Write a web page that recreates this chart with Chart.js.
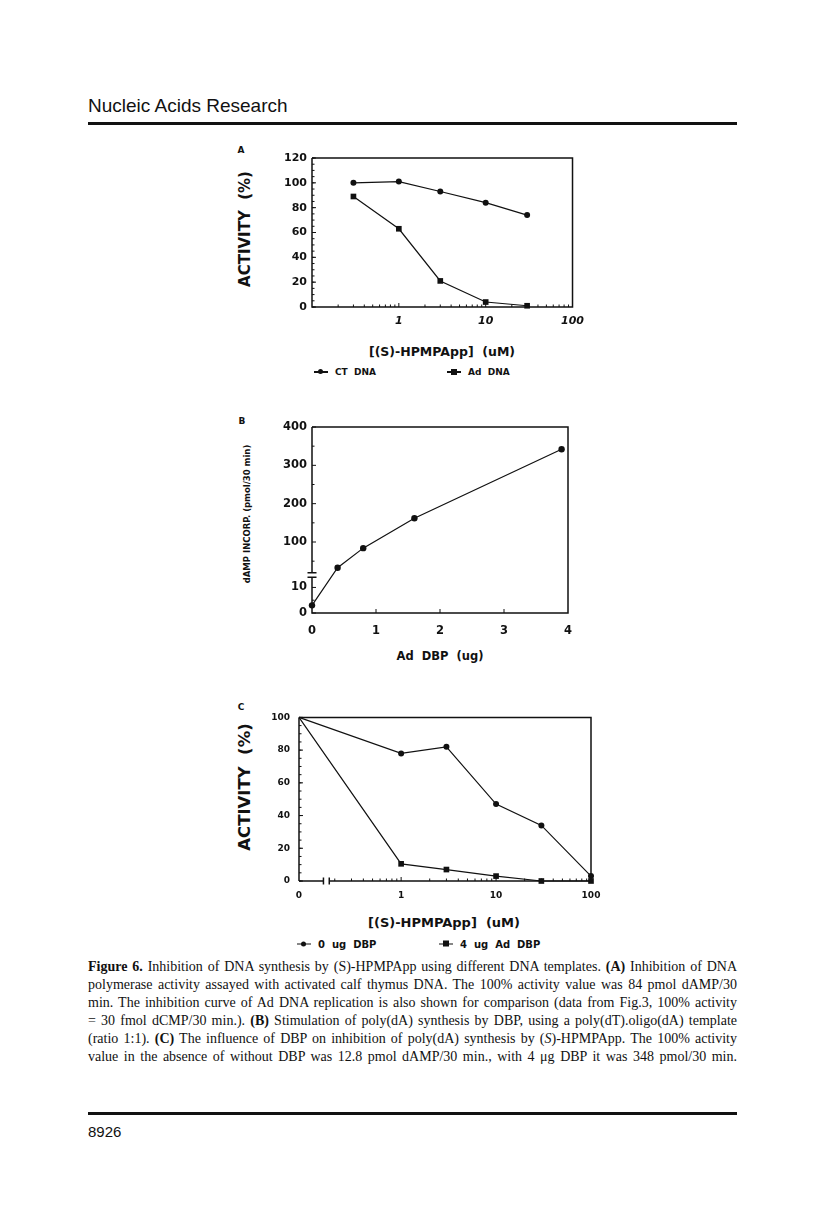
<!DOCTYPE html>
<html>
<head>
<meta charset="utf-8">
<script src="https://cdn.jsdelivr.net/npm/chart.js@4.4.1/dist/chart.umd.min.js"></script>
<style>
  html, body { margin: 0; padding: 0; background: #fff; }
  body { width: 816px; height: 1217px; position: relative; overflow: hidden; color: #111; }
  canvas { position: absolute; }
  .abs { position: absolute; white-space: pre; line-height: 1; }
  .head { left: 88px; top: 95px; font: 19px 'Liberation Sans', Arial, sans-serif; }
  .folio { left: 88px; top: 1123px; font: 15px 'Liberation Sans', Arial, sans-serif; }
  .rule { position: absolute; left: 88px; width: 649px; height: 3px; background: #111; }
  .lbl { font-family: 'DejaVu Sans', sans-serif; font-weight: bold; transform: translate(-50%, -50%); }
  .rot { transform: translate(-50%, -50%) rotate(-90deg); }
  .leg { position: absolute; display: flex; align-items: center; white-space: pre;
         font-family: 'DejaVu Sans', sans-serif; font-weight: bold; transform: translateY(-50%); }
  .leg .ln { position: relative; width: 14px; height: 1.3px; background: #111; margin-right: 7px; }
  .leg .dot { position: absolute; left: 4px; top: -2px; width: 5px; height: 5px; border-radius: 50%; background: #111; }
  .leg .sq { position: absolute; left: 4px; top: -2.5px; width: 6px; height: 6px; background: #111; }
  .cap { position: absolute; left: 88px; top: 958px; width: 649px;
         font: 14px 'Liberation Serif', 'Times New Roman', serif; line-height: 18px; }
  .cap div { white-space: nowrap; text-align: justify; text-align-last: justify; }
</style>
</head>
<body>
<div class="abs head">Nucleic Acids Research</div>
<div class="rule" style="top:122px"></div>

<!-- panel A -->
<div class="abs lbl" style="left:241px;top:150px;font-size:9px">A</div>
<div class="abs lbl rot" style="left:245px;top:229px;font-size:15px">ACTIVITY  (%)</div>
<canvas id="chartA" width="330" height="190" style="left:262px;top:145px"></canvas>
<div class="abs lbl" style="left:442px;top:352px;font-size:12.5px">[(S)-HPMPApp]  (uM)</div>
<div class="leg" style="left:314px;top:372px;font-size:9px"><span class="ln"><i class="dot"></i></span>CT  DNA</div>
<div class="leg" style="left:447px;top:372px;font-size:9px"><span class="ln"><i class="sq"></i></span>Ad  DNA</div>

<!-- panel B -->
<div class="abs lbl" style="left:242px;top:421px;font-size:9px">B</div>
<div class="abs lbl rot" style="left:247px;top:514px;font-size:8.5px">dAMP INCORP. (pmol/30 min)</div>
<canvas id="chartB" width="330" height="230" style="left:262px;top:415px"></canvas>
<div class="abs lbl" style="left:440px;top:657px;font-size:11.5px">Ad  DBP  (ug)</div>

<!-- panel C -->
<div class="abs lbl" style="left:241px;top:707px;font-size:9px">C</div>
<div class="abs lbl rot" style="left:245px;top:787px;font-size:16.5px">ACTIVITY  (%)</div>
<canvas id="chartC" width="360" height="210" style="left:250px;top:703px"></canvas>
<div class="abs lbl" style="left:444px;top:922px;font-size:13px">[(S)-HPMPApp]  (uM)</div>
<div class="leg" style="left:297px;top:944px;font-size:10px"><span class="ln"><i class="dot"></i></span>0  ug  DBP</div>
<div class="leg" style="left:439px;top:944px;font-size:10px"><span class="ln"><i class="sq"></i></span>4  ug  Ad  DBP</div>

<div class="cap">
  <div><b>Figure 6.</b> Inhibition of DNA synthesis by (S)-HPMPApp using different DNA templates. <b>(A)</b> Inhibition of DNA</div>
  <div>polymerase activity assayed with activated calf thymus DNA. The 100% activity value was 84 pmol dAMP/30</div>
  <div>min. The inhibition curve of Ad DNA replication is also shown for comparison (data from Fig.3, 100% activity</div>
  <div>= 30 fmol dCMP/30 min.). <b>(B)</b> Stimulation of poly(dA) synthesis by DBP, using a poly(dT).oligo(dA) template</div>
  <div>(ratio 1:1). <b>(C)</b> The influence of DBP on inhibition of poly(dA) synthesis by (<i>S</i>)-HPMPApp. The 100% activity</div>
  <div>value in the absence of without DBP was 12.8 pmol dAMP/30 min., with 4 &mu;g DBP it was 348 pmol/30 min.</div>
</div>

<div class="rule" style="top:1112px"></div>
<div class="abs folio">8926</div>

<script>
// Panel A: activity (%) vs [(S)-HPMPApp] (uM)
const aConc = [0.3, 1, 3, 10, 30];
const aCtDna = [100, 101, 93, 84, 74];
const aAdDna = [89, 63, 21, 4, 1];
const aXTicks = [1, 10, 100];

// Panel B: dAMP incorporation (pmol/30 min) vs Ad DBP (ug)
const bDbp = [0, 0.4, 0.8, 1.6, 3.9];
const bIncorp = [3, 33, 84, 162, 342];
const bYTicks = [0, 10, 100, 200, 300, 400];

// Panel C: activity (%) vs [(S)-HPMPApp] (uM), with and without DBP
const cConc = [0, 1, 3, 10, 30, 100];
const cNoDbp = [100, 78, 82, 47, 34, 3];
const cAdDbp = [100, 10.5, 7, 3, 0, 0];
const cXTicks = [0, 1, 10, 100];

const ink = '#111';

// broken y axis of panel B: 0-14 below the break, 20-400 above it
const bBreakVals = [0, 14, 20, 400];
const bBreakFrac = [0, 0.1925, 0.2168, 1];
// panel C x axis: 0 sits at the left edge, log scale after the break
const cZeroAt = 0.084;
const cXMax = 100;

function piecewise(v, xs, ys) {
    if (v <= xs[0]) return ys[0];
    for (let i = 1; i < xs.length; i++) {
        if (v <= xs[i]) return ys[i - 1] + (v - xs[i - 1]) / (xs[i] - xs[i - 1]) * (ys[i] - ys[i - 1]);
    }
    return ys[ys.length - 1];
}

class BrokenLinearScale extends Chart.LinearScale {
    static id = 'brokenLinear';
    buildTicks() { return bYTicks.map(v => ({ value: v })); }
    getPixelForValue(v) { return this.getPixelForDecimal(piecewise(v, bBreakVals, bBreakFrac)); }
    getValueForPixel(p) { return piecewise(this.getDecimalForPixel(p), bBreakFrac, bBreakVals); }
}

class ZeroLogScale extends Chart.LinearScale {
    static id = 'zeroLog';
    buildTicks() { return cXTicks.map(v => ({ value: v })); }
    getPixelForValue(v) {
        const lo = Math.log10(cZeroAt), hi = Math.log10(cXMax);
        const d = v <= cZeroAt ? 0 : (Math.log10(v) - lo) / (hi - lo);
        return this.getPixelForDecimal(d);
    }
}
Chart.register(BrokenLinearScale, ZeroLogScale);

// tick helpers
const steps = (a, b, s) => { const r = []; for (let v = a; v <= b + 1e-9; v += s) r.push(+v.toFixed(6)); return r; };
const logMinor = (e0, e1) => { const r = []; for (let e = e0; e < e1; e++) for (let m = 2; m <= 9; m++) r.push(+(m * 10 ** e).toFixed(6)); return r; };

// frame, inward tick marks and axis breaks
function framePlugin(cfg) {
    return {
        id: 'frame',
        beforeDatasetsDraw(chart) {
            const { ctx, chartArea: a, scales: { x, y } } = chart;
            ctx.save();
            ctx.strokeStyle = ink;
            ctx.lineWidth = 1.5;
            ctx.beginPath();
            ctx.moveTo(a.left, a.top); ctx.lineTo(a.right, a.top); ctx.lineTo(a.right, a.bottom);
            if (cfg.xGap) {
                const p1 = x.getPixelForValue(cfg.xGap[0]), p2 = x.getPixelForValue(cfg.xGap[1]);
                ctx.lineTo(p2, a.bottom); ctx.moveTo(p1, a.bottom); ctx.lineTo(a.left, a.bottom);
                [p1, p2].forEach(p => { ctx.moveTo(p, a.bottom - 3.5); ctx.lineTo(p, a.bottom + 3.5); });
                ctx.moveTo(a.left, a.bottom);
            } else {
                ctx.lineTo(a.left, a.bottom);
            }
            if (cfg.yGap) {
                const p1 = y.getPixelForValue(cfg.yGap[0]), p2 = y.getPixelForValue(cfg.yGap[1]);
                ctx.lineTo(a.left, p1); ctx.moveTo(a.left, p2); ctx.lineTo(a.left, a.top);
                [p1, p2].forEach(p => { ctx.moveTo(a.left - 4.5, p); ctx.lineTo(a.left + 4.5, p); });
            } else {
                ctx.lineTo(a.left, a.top);
            }
            ctx.stroke();

            ctx.lineWidth = 1;
            ctx.beginPath();
            const xt = (vals, len) => vals.forEach(v => {
                const p = x.getPixelForValue(v);
                ctx.moveTo(p, a.bottom); ctx.lineTo(p, a.bottom - len);
            });
            const yt = (vals, len) => vals.forEach(v => {
                const p = y.getPixelForValue(v);
                ctx.moveTo(a.left, p); ctx.lineTo(a.left + len, p);
            });
            xt(cfg.xMajor || [], 4); xt(cfg.xMinor || [], 2.5);
            yt(cfg.yMajor || [], 4); yt(cfg.yMinor || [], 2.5);
            ctx.stroke();
            ctx.restore();
        }
    };
}

function series(xs, ys, style, r) {
    return {
        data: xs.map((x, i) => ({ x, y: ys[i] })),
        borderColor: ink, borderWidth: 1.2, tension: 0, clip: false,
        pointStyle: style,
        pointRadius: c => (c.raw && c.raw.x === 0 && xs === cConc) ? 0 : r,
        pointBackgroundColor: ink, pointBorderColor: ink, pointBorderWidth: 0
    };
}

function tickFont(size, style) {
    return { family: 'DejaVu Sans', weight: 'bold', size: size, style: style || 'normal' };
}

function baseOptions(pad, yWidth, xHeight) {
    return {
        responsive: false, animation: false, events: [],
        layout: { padding: pad },
        plugins: { legend: { display: false }, tooltip: { enabled: false } },
        scales: {
            x: { afterFit: s => { s.height = xHeight; }, grid: { display: false, drawTicks: false }, border: { display: false } },
            y: { afterFit: s => { s.width = yWidth; }, grid: { display: false, drawTicks: false }, border: { display: false } }
        }
    };
}

// Panel A
const optA = baseOptions({ top: 13, right: 19, left: 0, bottom: 0 }, 50, 28);
Object.assign(optA.scales.x, {
    type: 'logarithmic', min: 0.1, max: 100,
    afterBuildTicks: s => { s.ticks = aXTicks.map(v => ({ value: v })); },
    ticks: { font: tickFont(11, 'italic'), color: ink, padding: 8, autoSkip: false, maxRotation: 0, callback: v => String(v) }
});
Object.assign(optA.scales.y, {
    type: 'linear', min: 0, max: 120,
    ticks: { stepSize: 20, font: tickFont(11), color: ink, padding: 5, autoSkip: false }
});
new Chart(document.getElementById('chartA'), {
    type: 'line',
    data: { datasets: [series(aConc, aCtDna, 'circle', 3), series(aConc, aAdDna, 'rect', 4)] },
    options: optA,
    plugins: [framePlugin({ xMajor: [1, 10], xMinor: logMinor(-1, 2), yMajor: steps(0, 120, 20), yMinor: steps(0, 120, 5) })]
});

// Panel B
const optB = baseOptions({ top: 12, right: 24, left: 0, bottom: 0 }, 50, 32);
Object.assign(optB.scales.x, {
    type: 'linear', min: 0, max: 4,
    ticks: { stepSize: 1, font: tickFont(11.5), color: ink, padding: 11, autoSkip: false, maxRotation: 0 }
});
Object.assign(optB.scales.y, {
    type: 'brokenLinear', min: 0, max: 400,
    ticks: { font: tickFont(11.5), color: ink, padding: 5, autoSkip: false, callback: v => String(v) }
});
new Chart(document.getElementById('chartB'), {
    type: 'line',
    data: { datasets: [series(bDbp, bIncorp, 'circle', 3.2)] },
    options: optB,
    plugins: [framePlugin({ xMajor: [1, 2, 3], yGap: [14, 20], yMajor: bYTicks, yMinor: [5, 50, 150, 250, 350] })]
});

// Panel C
const optC = baseOptions({ top: 10, right: 19, left: 0, bottom: 0 }, 49, 32);
Object.assign(optC.scales.x, {
    type: 'zeroLog', min: 0, max: cXMax,
    ticks: { font: tickFont(9), color: ink, padding: 9, autoSkip: false, maxRotation: 0, callback: v => String(v) }
});
Object.assign(optC.scales.y, {
    type: 'linear', min: 0, max: 100,
    ticks: { stepSize: 20, font: tickFont(9), color: ink, padding: 9, autoSkip: false }
});
new Chart(document.getElementById('chartC'), {
    type: 'line',
    data: { datasets: [series(cConc, cNoDbp, 'circle', 3), series(cConc, cAdDbp, 'rect', 4)] },
    options: optC,
    plugins: [framePlugin({ xGap: [0.152, 0.175], xMajor: [1, 10], xMinor: logMinor(-1, 2).filter(v => v > 0.175),
                            yMajor: steps(0, 100, 20), yMinor: steps(0, 100, 5) })]
});
</script>
</body>
</html>
